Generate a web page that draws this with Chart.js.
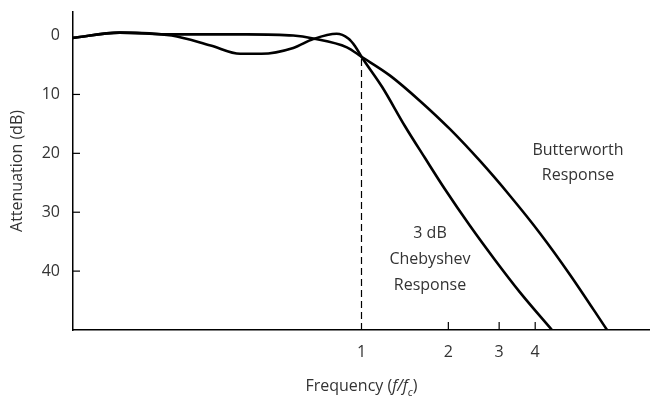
<!DOCTYPE html>
<html>
<head>
<meta charset="utf-8">
<script src="https://cdn.jsdelivr.net/npm/chart.js@4"></script>
<style>
  html, body { margin: 0; padding: 0; background: #fff; }
  #wrap { width: 650px; height: 400px; }
</style>
</head>
<body>
<div id="wrap"><canvas id="filterChart"></canvas></div>
<script>
// frequency (f/fc) and attenuation (dB)
const butterFreq = [0.1, 0.145, 0.22, 0.4, 0.58, 0.68, 0.89, 1, 1.256, 1.595, 2.027, 2.575, 3.27, 4.16, 5.28, 7.1];
const butterDb = [0.4, -0.5, -0.2, -0.2, 0, 0.5, 2.0, 3.6, 6.8, 11.1, 15.9, 21.3, 27.2, 33.6, 40.6, 50];
const chebyFreq = [0.1, 0.145, 0.22, 0.3, 0.38, 0.45, 0.58, 0.68, 0.82, 0.9, 0.95, 1, 1.178, 1.415, 1.66, 1.947, 2.377, 2.902, 3.543, 4.575];
const chebyDb = [0.4, -0.5, 0, 1.7, 3.1, 3.1, 2.1, 0.6, -0.3, 0.5, 1.8, 3.6, 8.7, 15.4, 20.8, 26.1, 32.3, 38.1, 43.6, 50];
const xTicks = [1, 2, 3, 4];
const yTicks = [0, 10, 20, 30, 40];

const textColor = '#333';
const fontFamily = '"Open Sans", "DejaVu Sans", sans-serif';

function toPoints(xs, ys) {
    return xs.map((v, i) => ({ x: v, y: ys[i] }));
}

// dashed cut-off line, inward tick marks and the text labels
const extras = {
    id: 'extras',
    afterDraw(chart) {
        const { ctx, scales: { x, y }, chartArea } = chart;
        ctx.save();
        ctx.strokeStyle = '#000';
        ctx.lineWidth = 1.2;

        // dashed line at f = fc
        ctx.setLineDash([7, 4]);
        ctx.beginPath();
        ctx.moveTo(x.getPixelForValue(1), y.getPixelForValue(4));
        ctx.lineTo(x.getPixelForValue(1), chartArea.bottom);
        ctx.stroke();
        ctx.setLineDash([]);

        // tick marks pointing inward
        yTicks.slice(1).forEach(v => {
            const py = y.getPixelForValue(v);
            ctx.beginPath();
            ctx.moveTo(chartArea.left, py);
            ctx.lineTo(chartArea.left + 7, py);
            ctx.stroke();
        });
        xTicks.slice(1).forEach(v => {
            const px = x.getPixelForValue(v);
            ctx.beginPath();
            ctx.moveTo(px, chartArea.bottom);
            ctx.lineTo(px, chartArea.bottom - 8);
            ctx.stroke();
        });

        ctx.fillStyle = textColor;
        ctx.textAlign = 'center';
        ctx.textBaseline = 'middle';
        ctx.font = '16px ' + fontFamily;
        ctx.fillText('Butterworth', 578, 150);
        ctx.fillText('Response', 578, 175);
        ctx.fillText('3 dB', 430, 233);
        ctx.fillText('Chebyshev', 430, 259);
        ctx.fillText('Response', 430, 285);

        // x axis title: Frequency (f/fc)
        const parts = [
            { t: 'Frequency (', f: '16px ' + fontFamily, dy: 0 },
            { t: 'f/f', f: 'italic 16px ' + fontFamily, dy: 0 },
            { t: 'c', f: 'italic 11px ' + fontFamily, dy: 5 },
            { t: ')', f: '16px ' + fontFamily, dy: 0 }
        ];
        let total = 0;
        parts.forEach(p => { ctx.font = p.f; p.w = ctx.measureText(p.t).width; total += p.w; });
        let cx = x.getPixelForValue(1) - total / 2;
        ctx.textAlign = 'left';
        ctx.textBaseline = 'alphabetic';
        parts.forEach(p => {
            ctx.font = p.f;
            ctx.fillText(p.t, cx, 391 + p.dy);
            cx += p.w;
        });
        ctx.restore();
    }
};

const lineStyle = {
    borderColor: '#000',
    borderWidth: 2.6,
    pointRadius: 0,
    tension: 0.4,
    cubicInterpolationMode: 'monotone',
    fill: false
};

const ctx = document.getElementById('filterChart').getContext('2d');
const filterChart = new Chart(ctx, {
    type: 'line',
    data: {
        datasets: [
            Object.assign({ label: 'Butterworth', data: toPoints(butterFreq, butterDb) }, lineStyle),
            Object.assign({ label: 'Chebyshev', data: toPoints(chebyFreq, chebyDb) }, lineStyle)
        ]
    },
    options: {
        responsive: true,
        maintainAspectRatio: false,
        animation: false,
        layout: { padding: { top: 12, right: 0, left: 0, bottom: 0 } },
        plugins: {
            legend: { display: false },
            tooltip: { enabled: false }
        },
        scales: {
            x: {
                type: 'logarithmic',
                min: 0.1,
                max: 10,
                afterBuildTicks: scale => { scale.ticks = xTicks.map(v => ({ value: v })); },
                afterFit: scale => { scale.height = 70; scale.paddingRight = 0; scale.paddingLeft = 0; },
                ticks: {
                    color: textColor,
                    padding: 13,
                    autoSkip: false,
                    maxRotation: 0,
                    font: { family: fontFamily, size: 16 },
                    callback: v => String(v)
                },
                grid: { drawOnChartArea: false, drawTicks: false },
                border: { display: true, color: '#000', width: 1.5 }
            },
            y: {
                type: 'linear',
                reverse: true,
                min: -4,
                max: 50,
                afterBuildTicks: scale => { scale.ticks = yTicks.map(v => ({ value: v })); },
                afterFit: scale => { scale.width = 73; scale.paddingTop = 0; scale.paddingBottom = 0; },
                ticks: {
                    color: textColor,
                    padding: 13,
                    font: { family: fontFamily, size: 16 }
                },
                grid: { drawOnChartArea: false, drawTicks: false },
                border: { display: true, color: '#000', width: 1.5 },
                title: {
                    display: true,
                    text: 'Attenuation (dB)',
                    color: textColor,
                    font: { family: fontFamily, size: 16 },
                    padding: { top: 8, bottom: 0 }
                }
            }
        }
    },
    plugins: [extras]
});
</script>
</body>
</html>
